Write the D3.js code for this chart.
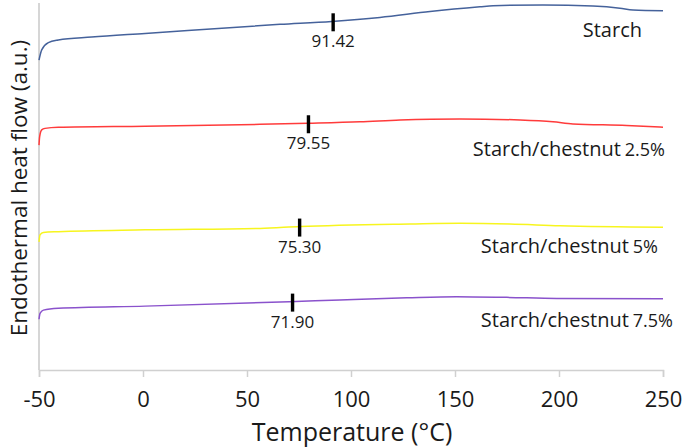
<!DOCTYPE html>
<html>
<head>
<meta charset="utf-8">
<script src="https://cdn.jsdelivr.net/npm/d3@7"></script>
<style>
  html, body { margin: 0; padding: 0; background: #ffffff; }
  svg { display: block; }
  text { font-family: "Open Sans", "Noto Sans", sans-serif; fill: #1a1a1a; }
</style>
</head>
<body>
<svg id="chart" width="685" height="448"></svg>
<script>
// ---- data ----
const xTicks = [-50, 0, 50, 100, 150, 200, 250];

// temperature (°C) and heat flow (a.u., curves offset for display)
const starchT    = [-50, -48.7, -45.5, -40.7, -24.7, 1, 65.9, 90.7, 113.9, 138, 162, 168.3, 192.3, 216.3, 229.3, 235.6, 250];
const starchHF   = [8.49, 8.77, 8.97, 9.04, 9.12, 9.22, 9.47, 9.55, 9.66, 9.82, 9.95, 9.98, 10.0, 9.97, 9.91, 9.86, 9.84];

const chest25T   = [-50, -49.7, -48.7, -47.1, -40.7, 1, 56.3, 79.5, 104.3, 123.6, 152.4, 181.3, 197.1, 206.7, 232.5, 250];
const chest25HF  = [6.16, 6.39, 6.58, 6.62, 6.65, 6.68, 6.73, 6.76, 6.80, 6.85, 6.88, 6.85, 6.80, 6.74, 6.70, 6.65];

const chest5T    = [-50, -49.5, -47.9, -40.7, 1, 56.3, 75.5, 128.4, 152.4, 176.4, 200.5, 250];
const chest5HF   = [3.51, 3.70, 3.77, 3.79, 3.84, 3.88, 3.93, 4.00, 4.02, 4.00, 3.95, 3.91];

const chest75T   = [-50, -49.5, -47.9, -40.7, 1, 70.2, 94.7, 126.8, 150.8, 174.9, 198.9, 250];
const chest75HF  = [1.39, 1.55, 1.64, 1.69, 1.75, 1.87, 1.92, 1.98, 2.01, 1.99, 1.96, 1.95];

const seriesNames = ["Starch", "Starch/chestnut", "Starch/chestnut", "Starch/chestnut"];
const seriesPct   = ["", "2.5%", "5%", "7.5%"];
const peakTemps   = [91.42, 79.55, 75.30, 71.90];
const peakLabels  = ["91.42", "79.55", "75.30", "71.90"];
const colors      = ["#45629b", "#ff3b3b", "#f7f51e", "#8a52cc"];

// ---- layout ----
const svg = d3.select("#chart");
const xScale = d3.scaleLinear().domain([-50, 250]).range([39, 663]);
const yScale = d3.scaleLinear().domain([0, 10]).range([370, 5]);

const seriesT  = [starchT, chest25T, chest5T, chest75T];
const seriesHF = [starchHF, chest25HF, chest5HF, chest75HF];
const series = seriesT.map((t, i) => t.map((v, j) => ({ t: v, hf: seriesHF[i][j] })));

// y axis line (no ticks)
svg.append("line")
  .attr("x1", xScale(-50)).attr("x2", xScale(-50))
  .attr("y1", 3).attr("y2", yScale(0))
  .attr("stroke", "#d6d6d6").attr("stroke-width", 2);

// x axis
const xAxis = d3.axisBottom(xScale).tickValues(xTicks).tickSize(7).tickPadding(14)
  .tickFormat(d3.format("d"));
const gx = svg.append("g").attr("transform", `translate(0,${yScale(0)})`).call(xAxis);
gx.select(".domain").attr("stroke", "#d0d0d0").attr("stroke-width", 1.5);
gx.selectAll(".tick line").attr("stroke", "#d0d0d0").attr("stroke-width", 1.5);
gx.selectAll(".tick text")
  .attr("font-family", "'Open Sans', sans-serif")
  .attr("font-size", 22).attr("fill", "#1a1a1a")
  .text(d => d < 0 ? "-" + Math.abs(d) : d);

// axis titles
svg.append("text")
  .attr("x", 352).attr("y", 441)
  .attr("text-anchor", "middle")
  .attr("font-size", 25)
  .text("Temperature (°C)");

svg.append("text")
  .attr("transform", "translate(27,188) rotate(-90)")
  .attr("text-anchor", "middle")
  .attr("font-size", 22.5)
  .text("Endothermal heat flow (a.u.)");

// curves
const line = d3.line()
  .x(d => xScale(d.t))
  .y(d => yScale(d.hf))
  .curve(d3.curveMonotoneX);

svg.selectAll("path.curve")
  .data(series)
  .join("path")
  .attr("class", "curve")
  .attr("d", line)
  .attr("fill", "none")
  .attr("stroke", (d, i) => colors[i])
  .attr("stroke-width", 1.5);

// peak markers
function hfAt(s, t) {
  const i = d3.bisector(d => d.t).left(s, t);
  if (i <= 0) return s[0].hf;
  if (i >= s.length) return s[s.length - 1].hf;
  const a = s[i - 1], b = s[i];
  return a.hf + (b.hf - a.hf) * (t - a.t) / (b.t - a.t);
}

peakTemps.forEach((pt, i) => {
  const px = xScale(pt);
  const py = yScale(hfAt(series[i], pt));
  svg.append("line")
    .attr("x1", px).attr("x2", px)
    .attr("y1", py - 8).attr("y2", py + 10)
    .attr("stroke", "#000").attr("stroke-width", 3.4);
  svg.append("text")
    .attr("x", px).attr("y", py + 26)
    .attr("text-anchor", "middle")
    .attr("font-size", 17)
    .text(peakLabels[i]);
});

// series labels
const labelRight = [642, 665, 658, 673];   // right edge of each label (px)
const labelDy    = [26, 29, 26, 28];       // baseline below the curve end (px)
seriesNames.forEach((name, i) => {
  const s = series[i];
  const yEnd = yScale(s[s.length - 1].hf);
  const t = svg.append("text")
    .attr("x", labelRight[i]).attr("y", yEnd + labelDy[i])
    .attr("text-anchor", "end")
    .attr("font-size", 20);
  t.append("tspan").text(name);
  if (seriesPct[i]) {
    t.append("tspan").attr("font-size", 18).attr("dx", 4).text(seriesPct[i]);
  }
});
</script>
</body>
</html>
